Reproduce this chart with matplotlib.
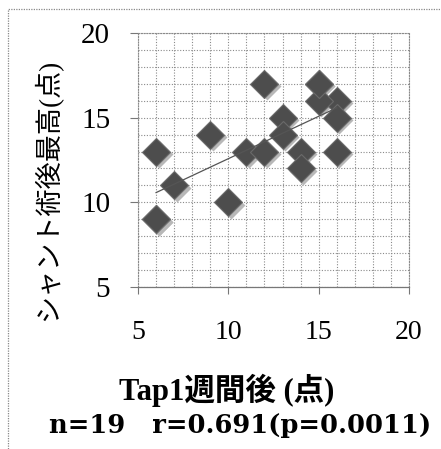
import matplotlib
matplotlib.use("Agg")
import matplotlib.pyplot as plt
from matplotlib.patches import Rectangle
import numpy as np

# データ (Tap 1週間後 vs シャント術後最高)
tap_1week = [12, 15, 16, 15, 16, 13, 9, 13, 6, 11, 12, 14, 16, 14, 7, 10, 6, 6, 15]
shunt_max = [17, 17, 16, 16, 15, 15, 14, 14, 13, 13, 13, 13, 13, 12, 11, 10, 9, 9, 17]
ticks = [5, 10, 15, 20]
xlabel = "Tap1週間後 (点)"
ylabel = "シャント術後最高(点)"
stats_text = "n=19   r=0.691(p=0.0011)"

FONTS = ["Liberation Serif", "Noto Sans CJK JP", "DejaVu Sans"]
plt.rcParams["font.family"] = FONTS

fig = plt.figure(figsize=(4.41, 4.49), dpi=100)
ax = fig.add_axes([138 / 441, 1 - 287 / 449, (409 - 138) / 441, (287 - 33) / 449])

x = np.array(tap_1week)
y = np.array(shunt_max)

# 影付きマーカー
ax.plot(x + 0.15, y - 0.15, "D", ms=14, color="#b8b8b8", mec="none", zorder=3)
ax.plot(x, y, "D", ms=14, color="#4d4d4d", mec="#6a6a6a", mew=0.8, zorder=4)

# 近似直線
k, b = np.polyfit(x, y, 1)
xs = np.array([x.min(), x.max()])
ax.plot(xs, k * xs + b, color="#555555", lw=0.9, zorder=5)

ax.set_xlim(5, 20)
ax.set_ylim(5, 20)
ax.set_xticks(ticks)
ax.set_yticks(ticks)
ax.set_xticks(np.arange(5, 21, 1), minor=True)
ax.set_yticks(np.arange(5, 21, 1), minor=True)
ax.tick_params(which="minor", length=0)
ax.tick_params(axis="y", which="major", length=6, width=0.8, color="#777777", pad=14, labelsize=21)
ax.tick_params(axis="x", which="major", length=5, width=0.8, color="#777777", pad=19, labelsize=20)
ax.grid(which="both", color="#8a8a8a", linestyle=(0, (1, 1.5)), linewidth=0.8)
ax.set_axisbelow(True)
for side in ["top", "right", "left"]:
    ax.spines[side].set_linestyle((0, (1, 1.5)))
    ax.spines[side].set_color("#8a8a8a")
    ax.spines[side].set_linewidth(0.8)
ax.spines["bottom"].set_color("#777777")
ax.spines["bottom"].set_linewidth(0.9)

# 軸ラベル
fig.text(48 / 441, 1 - 190 / 449, ylabel, rotation=90, ha="center", va="center", fontsize=19.5)
fig.text(227 / 441, 1 - 390 / 449, xlabel, ha="center", va="center", fontsize=22, fontweight="bold")
fig.text(240 / 441, 1 - 425 / 449, stats_text, ha="center", va="center", fontsize=18.5,
         fontweight="bold", family=["DejaVu Serif", "Noto Sans CJK JP"])

# 外枠(点線)
fig.patches.append(Rectangle((8 / 441, -0.1), 1.2, 1 - 9 / 449 + 0.1, transform=fig.transFigure,
                             fill=False, ec="#888888", lw=0.9, ls=(0, (1, 1))))

fig.savefig("out.png", dpi=100, facecolor="white")
